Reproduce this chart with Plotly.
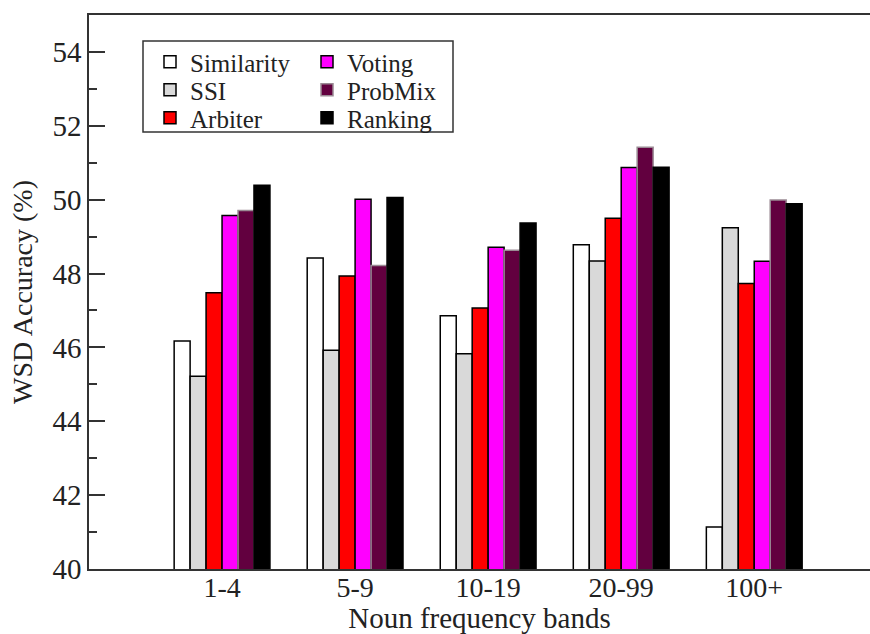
import plotly.graph_objects as go

categories = ["1-4", "5-9", "10-19", "20-99", "100+"]
series_names = ["Similarity", "SSI", "Arbiter", "Voting", "ProbMix", "Ranking"]
similarity = [46.17, 48.42, 46.86, 48.78, 41.14]
ssi = [45.22, 45.92, 45.83, 48.34, 49.24]
arbiter = [47.48, 47.93, 47.07, 49.50, 47.73]
voting = [49.57, 50.01, 48.71, 50.87, 48.33]
probmix = [49.71, 48.22, 48.63, 51.42, 49.99]
ranking = [50.39, 50.06, 49.37, 50.88, 49.89]
y_ticks = [40, 42, 44, 46, 48, 50, 52, 54]

values = [similarity, ssi, arbiter, voting, probmix, ranking]
fills = ["#ffffff", "#d9d9d9", "#ff0000", "#ff00ff", "#62003f", "#000000"]
outlines = ["#000000", "#000000", "#000000", "#000000", "#9a8a94", "#000000"]
# legend rows: (Similarity, Voting), (SSI, ProbMix), (Arbiter, Ranking)
legend_ids = ["legend", "legend2", "legend3", "legend", "legend2", "legend3"]

FONT = "Liberation Serif"

fig = go.Figure()
for name, vals, fc, lc, lg in zip(series_names, values, fills, outlines, legend_ids):
    fig.add_trace(go.Bar(
        name=name, x=categories, y=vals,
        marker=dict(color=fc, line=dict(color=lc, width=1.5)),
        legend=lg,
    ))

W, H = 870, 634
L, R, T, B = 89, 0, 15, 65
pw, ph = W - L - R, H - T - B

def px_x(p):
    return (p - L) / pw

def px_y(p):
    return (H - B - p) / ph

def leg(row_center):
    return dict(
        orientation="h", entrywidth=112, entrywidthmode="pixels",
        x=px_x(150), y=px_y(row_center), xanchor="left", yanchor="middle",
        font=dict(family=FONT, size=25, color="#222222"),
        bgcolor="rgba(0,0,0,0)", borderwidth=0,
    )

fig.update_layout(
    width=W, height=H,
    margin=dict(l=L, r=R, t=T, b=B),
    paper_bgcolor="white", plot_bgcolor="white",
    barmode="group", bargap=0.28, bargroupgap=0,
    font=dict(family=FONT, color="#222222"),
    showlegend=True,
    legend=leg(62),
    legend2=leg(90),
    legend3=leg(118),
    xaxis=dict(
        type="category", range=[-1, 4.87],
        showline=True, linecolor="#333333", linewidth=1.5, mirror=True,
        ticks="", showgrid=False, zeroline=False,
        tickfont=dict(family=FONT, size=28, color="#222222"),
        ticklabelstandoff=-7,
        title=dict(text="Noun frequency bands", font=dict(family=FONT, size=29, color="#222222"), standoff=0),
    ),
    yaxis=dict(
        range=[40, 55], tickvals=y_ticks, ticktext=[str(v) for v in y_ticks],
        showline=True, linecolor="#333333", linewidth=1.5, mirror=False,
        ticks="inside", ticklen=16, tickwidth=1.5, tickcolor="#333333",
        minor=dict(dtick=1, ticks="inside", ticklen=8, tickwidth=1.5, tickcolor="#333333", showgrid=False),
        showgrid=False, zeroline=False,
        tickfont=dict(family=FONT, size=29, color="#222222"),
        title=dict(text="WSD Accuracy (%)", font=dict(family=FONT, size=28, color="#222222"), standoff=12),
    ),
    shapes=[dict(
        type="rect", xref="paper", yref="paper",
        x0=px_x(143), x1=px_x(453), y0=px_y(132), y1=px_y(41),
        line=dict(color="#333333", width=1.5), fillcolor="rgba(0,0,0,0)", layer="above",
    )],
)

fig.write_html(
    "out.html",
    config={"displayModeBar": False},
    post_script="document.body.style.margin='0';",
)
